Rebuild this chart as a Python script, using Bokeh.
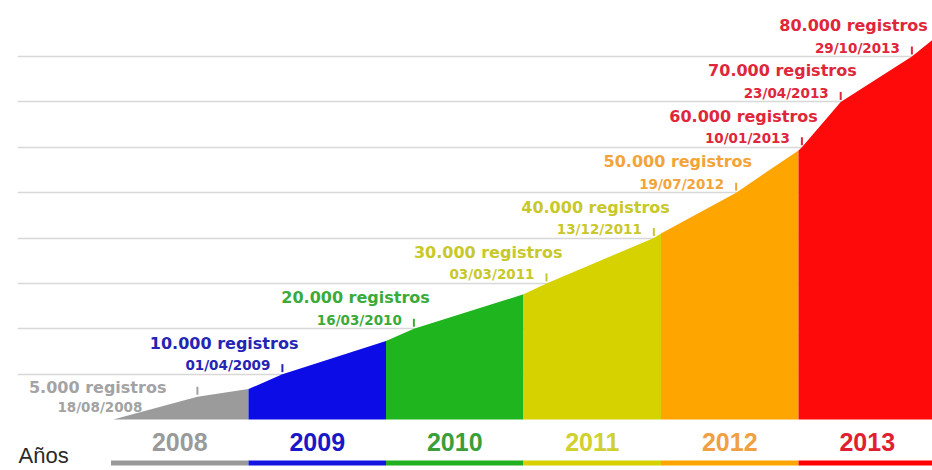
import pandas as pd
from bokeh.plotting import figure
from bokeh.models import ColumnDataSource, Range1d, FixedTicker, Label
from bokeh.layouts import column
from bokeh.core.properties import value
from bokeh.embed import file_html
from bokeh.resources import INLINE

# ---------------- data ----------------
anios = ["2008", "2009", "2010", "2011", "2012", "2013"]

hitos_fecha = ["18/08/2008", "01/04/2009", "16/03/2010", "03/03/2011", "13/12/2011",
               "19/07/2012", "10/01/2013", "23/04/2013", "29/10/2013"]
hitos_registros = [5000, 10000, 20000, 30000, 40000, 50000, 60000, 70000, 80000]

# start of the series and year-end totals
cierre_fecha = ["07/01/2008", "01/01/2009", "01/01/2010", "01/01/2011", "01/01/2012",
                "01/01/2013", "31/12/2013"]
cierre_registros = [0, 6700, 17300, 27600, 41000, 59300, 84200]

grid_valores = [10000, 20000, 30000, 40000, 50000, 60000, 70000, 80000]

# ---------------- styles ----------------
color_area = {"2008": "#9b9b9b", "2009": "#0c0ce6", "2010": "#1fb51f",
              "2011": "#d5d200", "2012": "#fea500", "2013": "#fe0a0a"}
color_texto = {"2008": "#a3a3a3", "2009": "#2525b5", "2010": "#3aab3a",
               "2011": "#c8c82a", "2012": "#f2a43a", "2013": "#e0263a"}
color_anio = {"2008": "#9a9a9a", "2009": "#1818c8", "2010": "#3a9e3a",
              "2011": "#d0d030", "2012": "#f0a040", "2013": "#e02030"}
color_barra = {"2008": "#999999", "2009": "#1515e0", "2010": "#20b020",
               "2011": "#d8d000", "2012": "#ffa500", "2013": "#ff0000"}

# label offsets (screen px) relative to each milestone: (reg dx, reg dy, date dx, date dy)
offs_default = (16, -31, -12, -9)
offs_special = {5000: (-31, -9, -55, 10)}

# ---------------- helpers ----------------
def anio_decimal(s):
    d = pd.to_datetime(s, format="%d/%m/%Y")
    a = pd.Timestamp(year=d.year, month=1, day=1)
    b = pd.Timestamp(year=d.year + 1, month=1, day=1)
    return d.year + (d - a) / (b - a)

serie = sorted([(anio_decimal(f), v) for f, v in zip(hitos_fecha, hitos_registros)] +
               [(anio_decimal(f), v) for f, v in zip(cierre_fecha, cierre_registros)])

W, H_TOP, H_BOT = 932, 425, 45
LEFT = 17
px_per_year = 137.5
x0_2008 = 110.5
xr = Range1d(start=2008 - (x0_2008 - LEFT) / px_per_year,
             end=2008 + (W - x0_2008) / px_per_year)

ppu = (419 - 56) / 80000.0  # px per record
base_px = H_TOP - 419
yr = Range1d(start=-base_px / ppu, end=(H_TOP - base_px) / ppu)
unit = 1 / ppu

p = figure(width=W, height=H_TOP, x_range=xr, y_range=yr, output_backend="svg",
           toolbar_location=None, x_axis_location=None, y_axis_location=None,
           min_border_left=LEFT, min_border_right=0, min_border_top=0, min_border_bottom=0)
p.outline_line_color = None
p.xgrid.visible = False
p.ygrid.ticker = FixedTicker(ticks=grid_valores)
p.ygrid.grid_line_color = "#d8d8d8"
p.ygrid.grid_line_width = 1.6

# milestone labels
xs, ys, regs, fechas, cols, rdx, rdy, fdx, fdy, t0, t1 = ([] for _ in range(11))
for f, v in zip(hitos_fecha, hitos_registros):
    x = anio_decimal(f)
    a = f[-4:]
    o = offs_special.get(v, offs_default)
    xs.append(x); ys.append(v)
    regs.append(f"{v:,}".replace(",", ".") + " registros")
    fechas.append(f)
    cols.append(color_texto[a])
    rdx.append(o[0]); rdy.append(o[1]); fdx.append(o[2]); fdy.append(o[3])
    t0.append(v + 2 * unit); t1.append(v + 10 * unit)
src = ColumnDataSource(dict(x=xs, y=ys, reg=regs, fecha=fechas, col=cols,
                            rdx=rdx, rdy=rdy, fdx=fdx, fdy=fdy, t0=t0, t1=t1))

p.text(x="x", y="y", text="reg", source=src, text_color="col", x_offset="rdx", y_offset="rdy",
       text_font=value("DejaVu Sans"), text_font_style="bold", text_font_size="16px",
       text_align="right", text_baseline="middle")
p.text(x="x", y="y", text="fecha", source=src, text_color="col", x_offset="fdx", y_offset="fdy",
       text_font=value("DejaVu Sans"), text_font_style="bold", text_font_size="13.5px",
       text_align="right", text_baseline="middle")
p.segment(x0="x", y0="t0", x1="x", y1="t1", source=src, line_color="col", line_width=2)

# coloured areas per year
for a in anios:
    y0 = int(a)
    pts = [(x, v) for x, v in serie if y0 <= x <= y0 + 1]
    p.varea(x=[q[0] for q in pts], y1=[0] * len(pts), y2=[q[1] for q in pts],
            fill_color=color_area[a])

# bottom year strip
p2 = figure(width=W, height=H_BOT, x_range=xr, y_range=Range1d(0, H_BOT), output_backend="svg",
            toolbar_location=None, x_axis_location=None, y_axis_location=None,
            min_border_left=LEFT, min_border_right=0, min_border_top=0, min_border_bottom=0)
p2.outline_line_color = None
p2.grid.visible = False
src2 = ColumnDataSource(dict(
    mid=[int(a) + 0.5 for a in anios], left=[int(a) for a in anios],
    right=[int(a) + 1 for a in anios], txt=anios,
    tc=[color_anio[a] for a in anios], bc=[color_barra[a] for a in anios],
    ty=[29] * len(anios), b0=[5] * len(anios), b1=[10] * len(anios)))
p2.text(x="mid", y="ty", text="txt", source=src2, text_color="tc",
        text_font=value("Liberation Sans"), text_font_style="bold", text_font_size="25px",
        text_align="center", text_baseline="middle")
p2.quad(left="left", right="right", bottom="b0", top="b1", source=src2,
        fill_color="bc", line_color=None)
p2.add_layout(Label(x=1, y=15, x_units="screen", y_units="screen", text="Años",
                    text_font="Liberation Sans", text_font_size="22px", text_color="#2a2a2a",
                    text_baseline="middle"))

lay = column(p, p2, spacing=0)
open("out.html", "w").write(file_html(lay, INLINE))
